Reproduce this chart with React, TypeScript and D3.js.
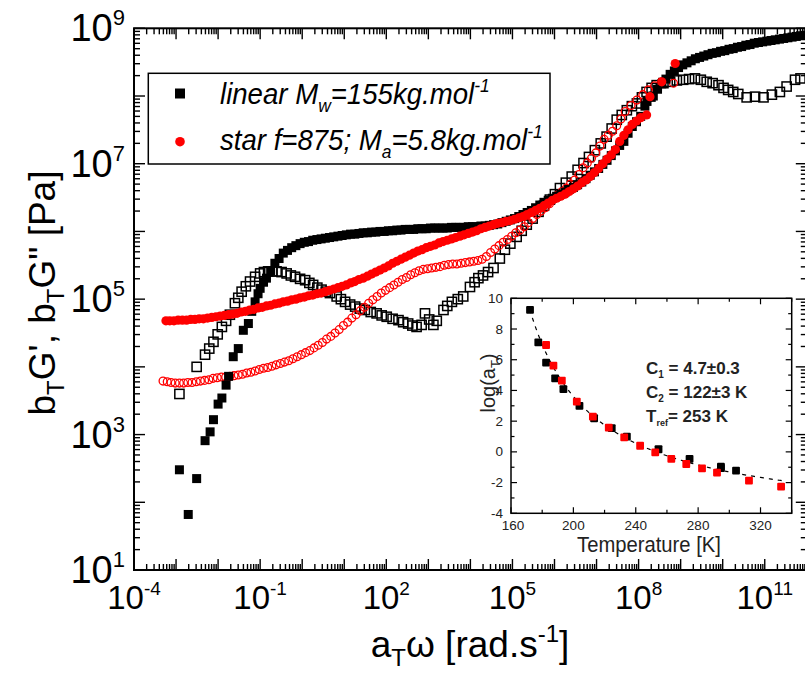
import React from 'react';
import * as d3 from 'd3';

const W = 805;
const H = 675;
const FONT = 'Liberation Sans, Arial, Helvetica, sans-serif';

// Master curves, stored as [log10(aT·ω / rad s^-1), log10(bT·G / Pa)]
const linearStorage: [number, number][] = [
  [-2.92, 2.48], [-2.71, 1.82], [-2.51, 2.35], [-2.31, 2.91], [-2.19, 3.04], [-2.11, 3.22], [-2.0, 3.45],
  [-1.91, 3.54], [-1.81, 3.73], [-1.75, 3.86], [-1.64, 4.15], [-1.52, 4.27], [-1.4, 4.54], [-1.28, 4.64],
  [-1.2, 4.82], [-1.12, 4.96], [-1.05, 5.08], [-1.0, 5.16], [-0.92, 5.25], [-0.85, 5.31], [-0.75, 5.42],
  [-0.65, 5.53], [-0.55, 5.6], [-0.45, 5.68], [-0.35, 5.72], [-0.25, 5.76], [-0.15, 5.79], [-0.05, 5.82],
  [0.05, 5.84], [0.15, 5.85], [0.25, 5.87], [0.35, 5.88], [0.45, 5.89], [0.55, 5.9], [0.65, 5.91],
  [0.75, 5.92], [0.85, 5.93], [0.95, 5.94], [1.05, 5.95], [1.15, 5.96], [1.25, 5.96], [1.35, 5.97],
  [1.45, 5.98], [1.55, 5.98], [1.65, 5.99], [1.75, 5.99], [1.85, 6.0], [1.95, 6.0], [2.05, 6.01],
  [2.15, 6.01], [2.25, 6.02], [2.35, 6.02], [2.45, 6.03], [2.55, 6.03], [2.65, 6.03], [2.75, 6.04],
  [2.85, 6.04], [2.95, 6.04], [3.05, 6.05], [3.15, 6.05], [3.25, 6.05], [3.35, 6.05], [3.45, 6.05],
  [3.55, 6.06], [3.65, 6.06], [3.75, 6.06], [3.85, 6.06], [3.95, 6.07], [4.05, 6.07], [4.15, 6.07],
  [4.25, 6.08], [4.35, 6.08], [4.45, 6.09], [4.55, 6.1], [4.65, 6.11], [4.75, 6.13], [4.85, 6.15],
  [4.95, 6.17], [5.05, 6.19], [5.15, 6.22], [5.25, 6.25], [5.35, 6.28], [5.45, 6.31], [5.55, 6.35],
  [5.65, 6.39], [5.75, 6.43], [5.85, 6.46], [5.95, 6.49], [6.05, 6.52], [6.15, 6.55], [6.25, 6.58],
  [6.35, 6.62], [6.45, 6.65], [6.55, 6.69], [6.65, 6.73], [6.75, 6.78], [6.85, 6.83], [6.95, 6.88],
  [7.05, 6.93], [7.15, 6.99], [7.25, 7.05], [7.35, 7.12], [7.45, 7.19], [7.55, 7.27], [7.65, 7.33],
  [7.75, 7.45], [7.85, 7.55], [7.95, 7.62], [8.05, 7.7], [8.15, 7.85], [8.2, 7.92], [8.3, 7.98],
  [8.35, 8.0], [8.45, 8.1], [8.55, 8.18], [8.65, 8.25], [8.75, 8.32], [8.85, 8.37], [8.95, 8.42],
  [9.05, 8.46], [9.15, 8.49], [9.25, 8.52], [9.35, 8.55], [9.45, 8.57], [9.55, 8.59], [9.65, 8.61],
  [9.75, 8.63], [9.85, 8.64], [9.95, 8.66], [10.05, 8.67], [10.15, 8.69], [10.25, 8.7], [10.35, 8.72],
  [10.45, 8.73], [10.55, 8.75], [10.65, 8.76], [10.75, 8.78], [10.85, 8.79], [10.95, 8.8], [11.05, 8.81],
  [11.15, 8.82], [11.25, 8.83], [11.35, 8.84], [11.45, 8.85], [11.55, 8.86], [11.65, 8.87], [11.75, 8.88],
  [11.85, 8.89],
];

const linearLoss: [number, number][] = [
  [-2.92, 3.6], [-2.51, 4.0], [-2.31, 4.18], [-2.21, 4.27], [-2.11, 4.37], [-2.01, 4.48], [-1.91, 4.59],
  [-1.81, 4.68], [-1.72, 4.77], [-1.6, 4.94], [-1.52, 5.02], [-1.44, 5.11], [-1.34, 5.19], [-1.24, 5.26],
  [-1.12, 5.33], [-1.0, 5.38], [-0.91, 5.4], [-0.81, 5.41], [-0.71, 5.41], [-0.61, 5.41], [-0.49, 5.4],
  [-0.37, 5.38], [-0.27, 5.35], [-0.17, 5.33], [-0.05, 5.3], [0.07, 5.28], [0.17, 5.24], [0.26, 5.21],
  [0.36, 5.17], [0.46, 5.14], [0.56, 5.11], [0.66, 5.09], [0.82, 5.04], [0.92, 5.0], [1.02, 4.96],
  [1.14, 4.92], [1.26, 4.89], [1.37, 4.86], [1.49, 4.84], [1.63, 4.81], [1.77, 4.79], [1.89, 4.76],
  [2.01, 4.74], [2.15, 4.71], [2.29, 4.69], [2.4, 4.66], [2.52, 4.64], [2.62, 4.61], [2.72, 4.59],
  [2.84, 4.62], [2.92, 4.79], [3.02, 4.7], [3.12, 4.62], [3.2, 4.68], [3.36, 4.84], [3.45, 4.9],
  [3.56, 4.96], [3.7, 5.0], [3.83, 5.04], [3.99, 5.18], [4.1, 5.25], [4.19, 5.31], [4.3, 5.35],
  [4.42, 5.4], [4.55, 5.46], [4.7, 5.6], [4.82, 5.73], [4.95, 5.82], [5.1, 5.92], [5.22, 6.01],
  [5.34, 6.1], [5.48, 6.19], [5.62, 6.29], [5.75, 6.38], [5.89, 6.47], [6.01, 6.55], [6.13, 6.64],
  [6.27, 6.72], [6.41, 6.81], [6.55, 6.91], [6.69, 7.01], [6.82, 7.1], [6.96, 7.2], [7.1, 7.3],
  [7.24, 7.4], [7.36, 7.52], [7.48, 7.65], [7.6, 7.72], [7.72, 7.79], [7.84, 7.85], [7.96, 7.89],
  [8.08, 7.98], [8.19, 8.06], [8.31, 8.12], [8.43, 8.16], [8.59, 8.19], [8.75, 8.21], [8.91, 8.23],
  [9.06, 8.24], [9.2, 8.25], [9.34, 8.26], [9.48, 8.24], [9.62, 8.21], [9.76, 8.19], [9.9, 8.16],
  [10.02, 8.12], [10.13, 8.09], [10.25, 8.06], [10.37, 8.03], [10.57, 7.98], [10.77, 7.99], [10.97, 7.98],
  [11.17, 8.02], [11.36, 8.06], [11.52, 8.14], [11.72, 8.24], [11.85, 8.26],
];

const starStorage: [number, number][] = [
  [-3.24, 4.68], [-3.15, 4.68], [-3.05, 4.68], [-2.95, 4.69], [-2.85, 4.69], [-2.75, 4.69], [-2.65, 4.7],
  [-2.55, 4.7], [-2.45, 4.71], [-2.35, 4.71], [-2.25, 4.72], [-2.15, 4.73], [-2.05, 4.74], [-1.95, 4.75],
  [-1.85, 4.76], [-1.75, 4.77], [-1.65, 4.78], [-1.55, 4.79], [-1.45, 4.81], [-1.35, 4.82], [-1.25, 4.84],
  [-1.15, 4.85], [-1.05, 4.87], [-0.95, 4.88], [-0.85, 4.9], [-0.75, 4.91], [-0.65, 4.93], [-0.55, 4.94],
  [-0.45, 4.96], [-0.35, 4.97], [-0.25, 4.99], [-0.15, 5.0], [-0.05, 5.02], [0.05, 5.03], [0.15, 5.05],
  [0.25, 5.06], [0.35, 5.08], [0.45, 5.09], [0.55, 5.11], [0.65, 5.13], [0.75, 5.15], [0.85, 5.17],
  [0.95, 5.19], [1.05, 5.21], [1.15, 5.24], [1.25, 5.26], [1.35, 5.29], [1.45, 5.31], [1.55, 5.34],
  [1.65, 5.37], [1.75, 5.4], [1.85, 5.43], [1.95, 5.46], [2.05, 5.49], [2.15, 5.53], [2.25, 5.56],
  [2.35, 5.59], [2.45, 5.62], [2.55, 5.65], [2.65, 5.68], [2.75, 5.71], [2.85, 5.73], [2.95, 5.76],
  [3.05, 5.78], [3.15, 5.8], [3.25, 5.83], [3.35, 5.85], [3.45, 5.87], [3.55, 5.89], [3.65, 5.91],
  [3.75, 5.93], [3.85, 5.95], [3.95, 5.97], [4.05, 5.99], [4.15, 6.01], [4.25, 6.04], [4.35, 6.06],
  [4.45, 6.08], [4.55, 6.1], [4.65, 6.12], [4.75, 6.13], [4.85, 6.15], [4.95, 6.16], [5.05, 6.18],
  [5.15, 6.2], [5.25, 6.22], [5.35, 6.25], [5.45, 6.28], [5.55, 6.31], [5.65, 6.34], [5.75, 6.38],
  [5.85, 6.42], [5.95, 6.46], [6.05, 6.49], [6.15, 6.52], [6.25, 6.55], [6.35, 6.59], [6.45, 6.63],
  [6.55, 6.67], [6.65, 6.72], [6.75, 6.76], [6.85, 6.81], [6.95, 6.87], [7.05, 6.93], [7.15, 7.0],
  [7.25, 7.07], [7.35, 7.13], [7.45, 7.21], [7.55, 7.33], [7.65, 7.42], [7.75, 7.5], [7.85, 7.58],
  [7.95, 7.63], [8.05, 7.68], [8.19, 7.72], [8.27, 7.99], [8.55, 8.21], [8.87, 8.48],
];

const starLoss: [number, number][] = [
  [-3.31, 3.79], [-3.21, 3.78], [-3.12, 3.77], [-3.02, 3.76], [-2.92, 3.76], [-2.82, 3.76], [-2.72, 3.77],
  [-2.62, 3.77], [-2.52, 3.78], [-2.42, 3.79], [-2.32, 3.8], [-2.22, 3.81], [-2.12, 3.83], [-2.02, 3.84],
  [-1.92, 3.85], [-1.82, 3.85], [-1.72, 3.86], [-1.62, 3.87], [-1.52, 3.88], [-1.42, 3.89], [-1.32, 3.91],
  [-1.22, 3.92], [-1.12, 3.94], [-1.02, 3.96], [-0.92, 3.98], [-0.82, 3.99], [-0.72, 4.01], [-0.62, 4.03],
  [-0.52, 4.05], [-0.42, 4.07], [-0.32, 4.09], [-0.22, 4.12], [-0.12, 4.15], [-0.02, 4.18], [0.08, 4.21],
  [0.18, 4.24], [0.28, 4.28], [0.38, 4.32], [0.48, 4.36], [0.58, 4.41], [0.68, 4.45], [0.78, 4.5],
  [0.88, 4.55], [0.98, 4.61], [1.08, 4.66], [1.18, 4.72], [1.28, 4.77], [1.38, 4.83], [1.48, 4.88],
  [1.58, 4.94], [1.68, 4.99], [1.78, 5.04], [1.88, 5.09], [1.98, 5.13], [2.08, 5.17], [2.18, 5.21],
  [2.28, 5.25], [2.38, 5.29], [2.48, 5.32], [2.58, 5.36], [2.68, 5.39], [2.78, 5.42], [2.88, 5.44],
  [2.98, 5.45], [3.08, 5.46], [3.18, 5.47], [3.28, 5.48], [3.38, 5.5], [3.48, 5.51], [3.58, 5.52],
  [3.68, 5.52], [3.78, 5.53], [3.88, 5.54], [3.98, 5.55], [4.08, 5.56], [4.18, 5.57], [4.28, 5.59],
  [4.38, 5.63], [4.48, 5.69], [4.58, 5.74], [4.68, 5.79], [4.78, 5.84], [4.88, 5.88], [4.98, 5.93],
  [5.08, 5.98], [5.18, 6.02], [5.28, 6.07], [5.38, 6.13], [5.48, 6.19], [5.58, 6.25], [5.68, 6.3],
  [5.78, 6.35], [5.88, 6.41], [5.98, 6.48], [6.08, 6.54], [6.18, 6.59], [6.28, 6.64], [6.38, 6.7],
  [6.48, 6.76], [6.58, 6.84], [6.68, 6.94], [6.78, 7.01], [6.88, 7.08], [6.98, 7.16], [7.08, 7.26],
  [7.18, 7.36], [7.28, 7.42], [7.38, 7.48], [7.48, 7.56], [7.58, 7.66], [7.68, 7.77], [7.82, 7.86],
  [7.96, 7.94], [8.1, 8.02], [8.23, 8.09], [8.38, 8.15], [8.55, 8.21], [8.83, 8.19],
];

// Shift factors: [T / K, log10(aT)]
const linearShift: [number, number][] = [
  [172.2, 9.24], [177.5, 7.13], [182.5, 5.81], [188.3, 4.79], [193.6, 4.09], [203.9, 2.99], [213.3, 2.19],
  [224.6, 1.54], [234.3, 0.99], [254.6, 0.17], [274.5, -0.46], [294.6, -0.96], [294.6, -1.05], [304.3, -1.22],
];
const starShift: [number, number][] = [
  [182.5, 6.96], [187.2, 5.61], [192.6, 4.64], [202.2, 3.27], [212.5, 2.29], [222.7, 1.58], [232.6, 0.95],
  [242.8, 0.4], [252.5, -0.03], [262.8, -0.46], [272.4, -0.79], [282.5, -1.07], [292.1, -1.35], [312.6, -1.87],
  [333.2, -2.26],
];

// WLF parameters
const C1 = 4.7;
const C2 = 122;
const TREF = 253;
const wlfRange: [number, number] = [172, 336];

const xLabelExps = [-4, -1, 2, 5, 8, 11];
const yLabelExps = [1, 3, 5, 7, 9];
const insetXTicks = [160, 200, 240, 280, 320];
const insetYTicks = [-4, -2, 0, 2, 4, 6, 8, 10];

const legendItems = [
  { name: 'linear', color: '#000', shape: 'square' },
  { name: 'star', color: '#ff0000', shape: 'circle' },
];

// main frame
const L = 134, R = 806.8, T = 28.3, B = 570;
const x = d3.scaleLog().domain([1e-4, 1e12]).range([L, R]);
const y = d3.scaleLog().domain([1e1, 1e9]).range([B, T]);

// inset frame
const iL = 511, iR = 791.7, iT = 298.3, iB = 513.3;
const ix = d3.scaleLinear().domain([160, 340]).range([iL, iR]);
const iy = d3.scaleLinear().domain([-4, 10]).range([iB, iT]);

const px = (d: [number, number]) => x(Math.pow(10, d[0]));
const py = (d: [number, number]) => y(Math.pow(10, d[1]));

function logTicks(lo: number, hi: number) {
  const major: number[] = [];
  const minor: number[] = [];
  for (let e = lo; e <= hi; e++) {
    major.push(Math.pow(10, e));
    if (e < hi) for (let k = 2; k <= 9; k++) minor.push(k * Math.pow(10, e));
  }
  return { major, minor };
}

function MainAxes() {
  const xt = logTicks(-4, 12);
  const yt = logTicks(1, 9);
  const MAJ = 11, MIN = 6;
  const sw = 1.4;
  const lines: JSX.Element[] = [];
  xt.major.forEach((v, i) => {
    const X = x(v);
    lines.push(<line key={`xb${i}`} x1={X} x2={X} y1={B} y2={B - MAJ} stroke="#000" strokeWidth={sw} />);
    lines.push(<line key={`xt${i}`} x1={X} x2={X} y1={T} y2={T + MAJ} stroke="#000" strokeWidth={sw} />);
  });
  xt.minor.forEach((v, i) => {
    const X = x(v);
    lines.push(<line key={`xbm${i}`} x1={X} x2={X} y1={B} y2={B - MIN} stroke="#000" strokeWidth={sw} />);
    lines.push(<line key={`xtm${i}`} x1={X} x2={X} y1={T} y2={T + MIN} stroke="#000" strokeWidth={sw} />);
  });
  yt.major.forEach((v, i) => {
    const Y = y(v);
    lines.push(<line key={`yl${i}`} x1={L} x2={L + MAJ} y1={Y} y2={Y} stroke="#000" strokeWidth={sw} />);
    lines.push(<line key={`yr${i}`} x1={R} x2={R - MAJ} y1={Y} y2={Y} stroke="#000" strokeWidth={sw} />);
  });
  yt.minor.forEach((v, i) => {
    const Y = y(v);
    lines.push(<line key={`ylm${i}`} x1={L} x2={L + MIN} y1={Y} y2={Y} stroke="#000" strokeWidth={sw} />);
    lines.push(<line key={`yrm${i}`} x1={R} x2={R - MIN} y1={Y} y2={Y} stroke="#000" strokeWidth={sw} />);
  });
  return (
    <g>
      {lines}
      <rect x={L} y={T} width={R - L} height={B - T} fill="none" stroke="#000" strokeWidth={2} />
      {xLabelExps.map((e) => (
        <text key={`xl${e}`} x={x(Math.pow(10, e))} y={609} textAnchor="middle" fontSize={33} fontFamily={FONT}>
          10<tspan dy={-14} fontSize={19}>{e}</tspan>
        </text>
      ))}
      {yLabelExps.map((e) => (
        <text key={`yl${e}`} x={125} y={y(Math.pow(10, e)) + 13} textAnchor="end" fontSize={38} fontFamily={FONT}>
          10<tspan dy={-16} fontSize={22}>{e}</tspan>
        </text>
      ))}
      <text x={470} y={657} textAnchor="middle" fontSize={37} fontFamily={FONT}>
        a<tspan dy={9} fontSize={24}>T</tspan>
        <tspan dy={-9}>ω [rad.s</tspan>
        <tspan dy={-15} fontSize={24}>-1</tspan>
        <tspan dy={15}>]</tspan>
      </text>
      <text transform="translate(55,293) rotate(-90)" textAnchor="middle" fontSize={37} fontFamily={FONT}>
        b<tspan dy={9} fontSize={24}>T</tspan>
        <tspan dy={-9}>G', b</tspan>
        <tspan dy={9} fontSize={24}>T</tspan>
        <tspan dy={-9}>G" [Pa]</tspan>
      </text>
    </g>
  );
}

function Series() {
  return (
    <g>
      {linearLoss.map((d, i) => (
        <rect key={`lo${i}`} x={px(d) - 4.6} y={py(d) - 4.6} width={9.2} height={9.2} fill="none" stroke="#000" strokeWidth={1.5} />
      ))}
      {starLoss.map((d, i) => (
        <circle key={`so${i}`} cx={px(d)} cy={py(d)} r={3.9} fill="none" stroke="#ff0000" strokeWidth={1.3} />
      ))}
      {linearStorage.map((d, i) => (
        <rect key={`lf${i}`} x={px(d) - 4.5} y={py(d) - 4.5} width={9} height={9} fill="#000" />
      ))}
      {starStorage.map((d, i) => (
        <circle key={`sf${i}`} cx={px(d)} cy={py(d)} r={4.6} fill="#ff0000" />
      ))}
    </g>
  );
}

function Legend() {
  const x0 = 148.3, y0 = 73.3, w = 401.7, h = 90.7;
  return (
    <g fontFamily={FONT}>
      <rect x={x0} y={y0} width={w} height={h} fill="#fff" stroke="#000" strokeWidth={1.5} />
      {legendItems.map((it, i) => {
        const cy = i === 0 ? 93.5 : 141.7;
        return it.shape === 'square' ? (
          <rect key={it.name} x={180 - 5} y={cy - 5} width={10} height={10} fill={it.color} />
        ) : (
          <circle key={it.name} cx={180} cy={cy} r={4.8} fill={it.color} />
        );
      })}
      <g transform="translate(220,103.5) scale(0.92,1)">
        <text fontSize={30} fontStyle="italic">
          linear M<tspan dy={8} fontSize={19}>w</tspan>
          <tspan dy={-8}>=155kg.mol</tspan>
          <tspan dy={-12} fontSize={19}>-1</tspan>
        </text>
      </g>
      <g transform="translate(220,150) scale(0.92,1)">
        <text fontSize={30} fontStyle="italic">
          star f=875; M<tspan dy={8} fontSize={19}>a</tspan>
          <tspan dy={-8}>=5.8kg.mol</tspan>
          <tspan dy={-12} fontSize={19}>-1</tspan>
        </text>
      </g>
    </g>
  );
}

function Inset() {
  const xMinor = d3.range(160, 341, 20);
  const yMinor = d3.range(-4, 10.1, 1);
  const sw = 1.2;
  const curve = d3.range(wlfRange[0], wlfRange[1] + 0.01, 1).map((t) => [t, (-C1 * (t - TREF)) / (C2 + t - TREF)] as [number, number]);
  const line = d3.line<[number, number]>().x((d) => ix(d[0])).y((d) => iy(d[1]));
  return (
    <g fontFamily={FONT}>
      <rect x={iL} y={iT} width={iR - iL} height={iB - iT} fill="#fff" stroke="none" />
      {xMinor.map((v) => {
        const len = v % 40 === 0 ? 6 : 3.5;
        return (
          <g key={`ixt${v}`}>
            <line x1={ix(v)} x2={ix(v)} y1={iB} y2={iB - len} stroke="#000" strokeWidth={sw} />
            <line x1={ix(v)} x2={ix(v)} y1={iT} y2={iT + len} stroke="#000" strokeWidth={sw} />
          </g>
        );
      })}
      {yMinor.map((v) => {
        const len = v % 2 === 0 ? 6 : 3.5;
        return (
          <g key={`iyt${v}`}>
            <line x1={iL} x2={iL + len} y1={iy(v)} y2={iy(v)} stroke="#000" strokeWidth={sw} />
            <line x1={iR} x2={iR - len} y1={iy(v)} y2={iy(v)} stroke="#000" strokeWidth={sw} />
          </g>
        );
      })}
      <rect x={iL} y={iT} width={iR - iL} height={iB - iT} fill="none" stroke="#000" strokeWidth={1.5} />
      {insetXTicks.map((v) => (
        <text key={`ixl${v}`} x={ix(v) + (v === 160 ? 2 : 0)} y={530} textAnchor="middle" fontSize={13.5} fill="#222">{v}</text>
      ))}
      {insetYTicks.map((v) => (
        <text key={`iyl${v}`} x={503} y={iy(v) + 4.5} textAnchor="end" fontSize={13.5} fill="#222">{v}</text>
      ))}
      <g transform="translate(649,552) scale(0.92,1)">
        <text textAnchor="middle" fontSize={22} fill="#222">Temperature [K]</text>
      </g>
      <text transform="translate(495,383) rotate(-90)" textAnchor="middle" fontSize={20} fill="#222">
        log(a<tspan dy={5} fontSize={13}>T</tspan>
        <tspan dy={-5}>)</tspan>
      </text>
      <path d={line(curve) || ''} fill="none" stroke="#000" strokeWidth={1.2} strokeDasharray="4 5" />
      {linearShift.map((d, i) => (
        <rect key={`ls${i}`} x={ix(d[0]) - 3.9} y={iy(d[1]) - 3.9} width={7.8} height={7.8} fill="#000" rx={1} />
      ))}
      {starShift.map((d, i) => (
        <rect key={`ss${i}`} x={ix(d[0]) - 3.9} y={iy(d[1]) - 3.9} width={7.8} height={7.8} fill="#ff0000" rx={1} />
      ))}
      <g fontWeight="bold" fontSize={17} fill="#222">
        <text x={646} y={374}>
          C<tspan dy={4} fontSize={10}>1</tspan>
          <tspan dy={-4}> = 4.7±0.3</tspan>
        </text>
        <text x={646} y={398}>
          C<tspan dy={4} fontSize={10}>2</tspan>
          <tspan dy={-4}> = 122±3 K</tspan>
        </text>
        <text x={646} y={422}>
          T<tspan dy={4} fontSize={9}>ref</tspan>
          <tspan dy={-4}>=  253 K</tspan>
        </text>
      </g>
    </g>
  );
}

export default function App() {
  return (
    <svg width={W} height={H} viewBox={`0 0 ${W} ${H}`} style={{ position: 'absolute', left: 0, top: 0, background: '#fff' }}>
      <rect x={0} y={0} width={W} height={H} fill="#fff" />
      <Series />
      <MainAxes />
      <Legend />
      <Inset />
    </svg>
  );
}
